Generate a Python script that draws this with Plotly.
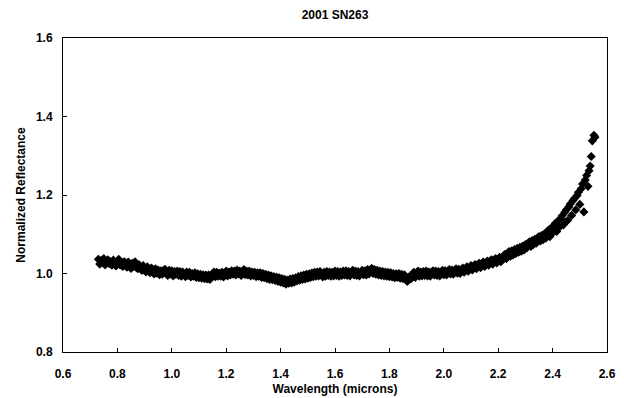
import plotly.graph_objects as go

wavelength = [
    0.730, 0.735, 0.740, 0.745, 0.750, 0.755, 0.760, 0.765, 0.770, 0.775,
    0.780, 0.785, 0.790, 0.795, 0.800, 0.805, 0.810, 0.815, 0.820, 0.825,
    0.830, 0.835, 0.840, 0.845, 0.850, 0.855, 0.860, 0.865, 0.870, 0.875,
    0.880, 0.885, 0.890, 0.895, 0.900, 0.905, 0.910, 0.915, 0.920, 0.925,
    0.930, 0.935, 0.940, 0.945, 0.950, 0.955, 0.960, 0.965, 0.970, 0.975,
    0.980, 0.985, 0.990, 0.995, 1.000, 1.005, 1.010, 1.015, 1.020, 1.025,
    1.030, 1.035, 1.040, 1.045, 1.050, 1.055, 1.060, 1.065, 1.070, 1.075,
    1.080, 1.085, 1.090, 1.095, 1.100, 1.105, 1.110, 1.115, 1.120, 1.125,
    1.130, 1.135, 1.140, 1.145, 1.150, 1.155, 1.160, 1.165, 1.170, 1.175,
    1.180, 1.185, 1.190, 1.195, 1.200, 1.205, 1.210, 1.215, 1.220, 1.225,
    1.230, 1.235, 1.240, 1.245, 1.250, 1.255, 1.260, 1.265, 1.270, 1.275,
    1.280, 1.285, 1.290, 1.295, 1.300, 1.305, 1.310, 1.315, 1.320, 1.325,
    1.330, 1.335, 1.340, 1.345, 1.350, 1.355, 1.360, 1.365, 1.370, 1.375,
    1.380, 1.385, 1.390, 1.395, 1.400, 1.405, 1.410, 1.415, 1.420, 1.425,
    1.430, 1.435, 1.440, 1.445, 1.450, 1.455, 1.460, 1.465, 1.470, 1.475,
    1.480, 1.485, 1.490, 1.495, 1.500, 1.505, 1.510, 1.515, 1.520, 1.525,
    1.530, 1.535, 1.540, 1.545, 1.550, 1.555, 1.560, 1.565, 1.570, 1.575,
    1.580, 1.585, 1.590, 1.595, 1.600, 1.605, 1.610, 1.615, 1.620, 1.625,
    1.630, 1.635, 1.640, 1.645, 1.650, 1.655, 1.660, 1.665, 1.670, 1.675,
    1.680, 1.685, 1.690, 1.695, 1.700, 1.705, 1.710, 1.715, 1.720, 1.725,
    1.730, 1.735, 1.740, 1.745, 1.750, 1.755, 1.760, 1.765, 1.770, 1.775,
    1.780, 1.785, 1.790, 1.795, 1.800, 1.805, 1.810, 1.815, 1.820, 1.825,
    1.830, 1.835, 1.840, 1.845, 1.850, 1.855, 1.862, 1.866, 1.871, 1.875,
    1.880, 1.885, 1.890, 1.895, 1.900, 1.905, 1.910, 1.915, 1.920, 1.925,
    1.930, 1.935, 1.940, 1.945, 1.950, 1.955, 1.960, 1.965, 1.970, 1.975,
    1.980, 1.985, 1.990, 1.995, 2.000, 2.005, 2.010, 2.015, 2.020, 2.025,
    2.030, 2.035, 2.040, 2.045, 2.050, 2.055, 2.060, 2.065, 2.070, 2.075,
    2.080, 2.085, 2.090, 2.095, 2.100, 2.105, 2.110, 2.115, 2.120, 2.125,
    2.130, 2.135, 2.140, 2.145, 2.150, 2.155, 2.160, 2.165, 2.170, 2.175,
    2.180, 2.185, 2.190, 2.195, 2.200, 2.205, 2.210, 2.215, 2.220, 2.225,
    2.230, 2.235, 2.240, 2.245, 2.250, 2.255, 2.260, 2.265, 2.270, 2.275,
    2.280, 2.285, 2.290, 2.295, 2.300, 2.305, 2.310, 2.315, 2.320, 2.325,
    2.330, 2.335, 2.340, 2.345, 2.350, 2.355, 2.360, 2.365, 2.370, 2.375,
    2.380, 2.385, 2.390, 2.395, 2.400, 2.405, 2.410, 2.415, 2.420, 2.425,
    2.430, 2.435, 2.440, 2.445, 2.450, 2.455, 2.460, 2.465, 2.470, 2.475,
    2.480, 2.485, 2.490, 2.495, 2.500, 2.505, 2.510, 2.515, 2.520, 2.525,
    2.530, 2.534, 2.538, 2.542, 2.546, 2.552, 2.556,
]

reflectance = [
    1.036, 1.024, 1.033, 1.027, 1.038, 1.022, 1.031, 1.035, 1.025, 1.030,
    1.021, 1.034, 1.026, 1.019, 1.032, 1.036, 1.022, 1.028, 1.018, 1.030,
    1.027, 1.016, 1.029, 1.020, 1.013, 1.026, 1.018, 1.030, 1.015, 1.012,
    1.022, 1.012, 1.008, 1.020, 1.011, 1.004, 1.017, 1.009, 1.002, 1.014,
    1.010, 0.999, 1.012, 1.001, 1.009, 0.997, 1.007, 0.998, 1.008, 1.011,
    1.004, 0.995, 1.008, 0.999, 1.007, 0.994, 1.005, 0.998, 1.006, 0.995,
    1.005, 0.993, 1.004, 0.998, 0.992, 1.004, 0.995, 1.003, 0.991, 1.000,
    0.993, 1.002, 0.990, 0.999, 0.989, 0.998, 0.988, 0.997, 0.987, 0.996,
    0.986, 0.996, 0.985, 0.995, 1.000, 1.004, 0.992, 1.003, 0.993, 1.001,
    0.993, 1.003, 0.991, 1.001, 1.006, 0.994, 1.004, 0.996, 1.007, 0.998,
    1.006, 0.996, 1.009, 0.999, 1.006, 0.995, 1.004, 1.010, 0.997, 1.006,
    0.996, 1.006, 0.994, 1.004, 0.995, 1.003, 0.992, 1.002, 0.993, 1.002,
    0.990, 1.000, 0.989, 0.998, 0.987, 0.996, 0.985, 0.994, 0.984, 0.992,
    0.982, 0.991, 0.980, 0.989, 0.978, 0.987, 0.976, 0.985, 0.973, 0.983,
    0.975, 0.986, 0.976, 0.987, 0.978, 0.989, 0.981, 0.992, 0.983, 0.994,
    0.985, 0.996, 0.986, 0.998, 0.988, 0.999, 0.990, 1.001, 0.992, 1.003,
    0.993, 1.004, 0.994, 1.005, 0.996, 0.991, 1.003, 0.993, 1.005, 0.995,
    1.004, 0.993, 1.003, 0.994, 1.006, 0.995, 1.005, 0.993, 1.004, 0.995,
    1.006, 0.996, 1.007, 0.995, 1.005, 0.994, 1.003, 1.008, 0.996, 1.006,
    0.995, 1.005, 0.994, 1.004, 1.008, 0.997, 1.007, 0.996, 1.010, 0.999,
    1.009, 1.013, 1.000, 1.010, 0.998, 1.008, 0.996, 1.006, 0.995, 1.005,
    0.994, 1.004, 0.993, 1.003, 0.992, 1.002, 0.991, 1.000, 0.989, 0.999,
    0.990, 1.000, 0.988, 0.998, 0.987, 0.997, 0.983, 0.980, 0.991, 0.986,
    0.987, 0.999, 1.003, 0.990, 1.001, 1.006, 0.993, 1.004, 0.994, 1.005,
    0.995, 1.006, 0.994, 1.004, 0.993, 1.003, 1.007, 0.996, 1.006, 0.995,
    1.005, 0.994, 1.004, 1.008, 0.997, 1.007, 0.996, 1.006, 1.010, 0.999,
    1.009, 0.998, 1.008, 1.012, 1.001, 1.011, 1.000, 1.010, 1.014, 1.003,
    1.013, 1.017, 1.006, 1.016, 1.020, 1.009, 1.019, 1.023, 1.012, 1.022,
    1.026, 1.015, 1.025, 1.029, 1.018, 1.028, 1.032, 1.021, 1.031, 1.035,
    1.024, 1.034, 1.038, 1.027, 1.037, 1.041, 1.030, 1.040, 1.045, 1.049,
    1.038, 1.052, 1.056, 1.044, 1.058, 1.047, 1.061, 1.051, 1.064, 1.054,
    1.067, 1.057, 1.070, 1.060, 1.074, 1.065, 1.077, 1.081, 1.069, 1.084,
    1.074, 1.087, 1.077, 1.091, 1.094, 1.083, 1.097, 1.086, 1.101, 1.090,
    1.105, 1.111, 1.094, 1.116, 1.103, 1.122, 1.128, 1.107, 1.134, 1.118,
    1.140, 1.147, 1.124, 1.156, 1.162, 1.135, 1.170, 1.177, 1.148, 1.186,
    1.191, 1.162, 1.199, 1.207, 1.176, 1.216, 1.228, 1.157, 1.238, 1.250,
    1.222, 1.262, 1.274, 1.298, 1.338, 1.352, 1.347,
]

x_ticks = [0.6, 0.8, 1.0, 1.2, 1.4, 1.6, 1.8, 2.0, 2.2, 2.4, 2.6]
y_ticks = [0.8, 1.0, 1.2, 1.4, 1.6]

font_family = "Liberation Sans, Arial, sans-serif"

fig = go.Figure()
fig.add_trace(go.Scatter(
    x=wavelength, y=reflectance, mode="markers",
    marker=dict(symbol="diamond", size=7, color="black", line=dict(width=0)),
    showlegend=False,
))

# The page body has an 8px margin; the figure is sized so the plot box lands
# at the same window position as in the reference.
fig.update_layout(
    width=616, height=390,
    margin=dict(l=55, r=17, t=30, b=46),
    paper_bgcolor="white", plot_bgcolor="white",
    title=dict(text="<b>2001 SN263</b>", x=0.5, xref="paper", xanchor="center",
               y=0.982, yanchor="middle",
               font=dict(family=font_family, size=12, color="black")),
    font=dict(family=font_family, size=12, color="black"),
)
fig.update_xaxes(
    range=[0.6, 2.6], tickvals=x_ticks, ticktext=[f"<b>{v:.1f}</b>" for v in x_ticks],
    showline=True, linecolor="black", linewidth=1, mirror=True,
    ticks="inside", ticklen=4, tickcolor="black", showgrid=False, zeroline=False,
    ticklabelstandoff=11, automargin=False,
    title=dict(text="<b>Wavelength (microns)</b>", standoff=4, font=dict(size=12)),
)
fig.update_yaxes(
    range=[0.8, 1.6], tickvals=y_ticks, ticktext=[f"<b>{v:.1f}</b>" for v in y_ticks],
    showline=True, linecolor="black", linewidth=1, mirror=True,
    ticks="inside", ticklen=4, tickcolor="black", showgrid=False, zeroline=False,
    ticklabelstandoff=7, automargin=False,
    title=dict(text="<b>Normalized Reflectance</b>", standoff=7, font=dict(size=12)),
)

fig.write_html("out.html")
